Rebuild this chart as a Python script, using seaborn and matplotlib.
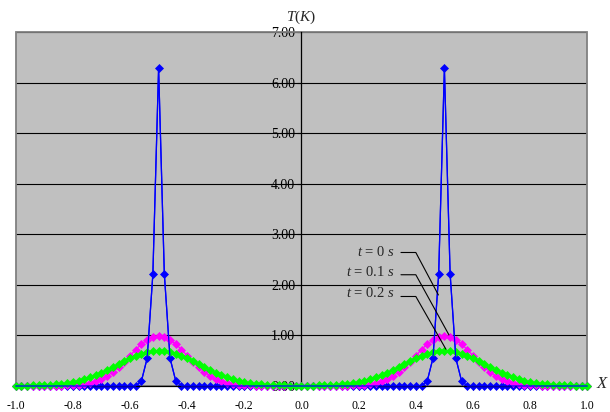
import numpy as np
import matplotlib
matplotlib.use("Agg")
import matplotlib.pyplot as plt
from matplotlib.patches import Rectangle
import seaborn as sns

# Spatial grid and temperature profiles T(x) at three instants
x = np.linspace(-1.0, 1.0, 101)

t0 = [0, 0, 0, 0, 0, 0, 0, 0, 0, 0,
      0, 0, 0, 0, 0, 0, 0, 0, 0, 0,
      0, 0, 0.10, 0.55, 2.22, 6.28, 2.22, 0.55, 0.10, 0,
      0, 0, 0, 0, 0, 0, 0, 0, 0, 0,
      0, 0, 0, 0, 0, 0, 0, 0, 0, 0,
      0, 0, 0, 0, 0, 0, 0, 0, 0, 0,
      0, 0, 0, 0, 0, 0, 0, 0, 0, 0,
      0, 0, 0.10, 0.55, 2.22, 6.28, 2.22, 0.55, 0.10, 0,
      0, 0, 0, 0, 0, 0, 0, 0, 0, 0,
      0, 0, 0, 0, 0, 0, 0, 0, 0, 0,
      0]

t01 = [0, 0, 0, 0, 0, 0, 0, 0, 0, 0.01,
       0.01, 0.02, 0.03, 0.06, 0.09, 0.13, 0.20, 0.28, 0.37, 0.48,
       0.60, 0.72, 0.83, 0.91, 0.97, 0.99, 0.97, 0.91, 0.83, 0.72,
       0.60, 0.48, 0.37, 0.28, 0.20, 0.13, 0.09, 0.06, 0.03, 0.02,
       0.01, 0.01, 0, 0, 0, 0, 0, 0, 0, 0,
       0, 0, 0, 0, 0, 0, 0, 0, 0, 0.01,
       0.01, 0.02, 0.03, 0.06, 0.09, 0.13, 0.20, 0.28, 0.37, 0.48,
       0.60, 0.72, 0.83, 0.91, 0.97, 0.99, 0.97, 0.91, 0.83, 0.72,
       0.60, 0.48, 0.37, 0.28, 0.20, 0.13, 0.09, 0.06, 0.03, 0.02,
       0.01, 0.01, 0, 0, 0, 0, 0, 0, 0, 0,
       0]

t02 = [0, 0, 0, 0.01, 0.01, 0.01, 0.02, 0.03, 0.04, 0.05,
       0.07, 0.10, 0.13, 0.17, 0.21, 0.26, 0.31, 0.37, 0.43, 0.49,
       0.55, 0.60, 0.64, 0.67, 0.69, 0.70, 0.69, 0.67, 0.64, 0.60,
       0.55, 0.49, 0.43, 0.37, 0.31, 0.26, 0.21, 0.17, 0.13, 0.10,
       0.07, 0.05, 0.04, 0.03, 0.02, 0.01, 0.01, 0.01, 0, 0,
       0, 0, 0, 0.01, 0.01, 0.01, 0.02, 0.03, 0.04, 0.05,
       0.07, 0.10, 0.13, 0.17, 0.21, 0.26, 0.31, 0.37, 0.43, 0.49,
       0.55, 0.60, 0.64, 0.67, 0.69, 0.70, 0.69, 0.67, 0.64, 0.60,
       0.55, 0.49, 0.43, 0.37, 0.31, 0.26, 0.21, 0.17, 0.13, 0.10,
       0.07, 0.05, 0.04, 0.03, 0.02, 0.01, 0.01, 0.01, 0, 0,
       0]

xticks = [-1.0, -0.8, -0.6, -0.4, -0.2, 0.0, 0.2, 0.4, 0.6, 0.8, 1.0]
yticks = [0, 1, 2, 3, 4, 5, 6, 7]
labels = ["$t$ = 0 $s$", "$t$ = 0.1 $s$", "$t$ = 0.2 $s$"]

sns.set_style("white")
plt.rcParams["font.family"] = ["Liberation Serif", "DejaVu Serif"]
plt.rcParams["mathtext.fontset"] = "custom"
plt.rcParams["mathtext.rm"] = "Liberation Serif"
plt.rcParams["mathtext.it"] = "Liberation Serif:italic"

fig = plt.figure(figsize=(6.10, 4.12), dpi=100)
ax = fig.add_axes([15.7 / 610, 26 / 412, 571.6 / 610, 354 / 412])
ax.set_facecolor("#C0C0C0")

series = [
    (t0, "#0000FF", 3.6, 2),
    (t01, "#FF00FF", 3.9, 3),
    (t02, "#00FF00", 3.9, 4),
]
for vals, col, ms, z in series:
    sns.lineplot(x=x, y=vals, ax=ax, color=col, marker="D", markersize=ms,
                 markeredgecolor=col, markeredgewidth=0.5, linewidth=0.9,
                 sort=False, estimator=None, zorder=z, clip_on=False)
# thin t=0 line kept visible over the broader profiles
sns.lineplot(x=x, y=t0, ax=ax, color="#0000FF", linewidth=0.9, sort=False,
             estimator=None, zorder=5, clip_on=False)

ax.set_xlim(-1.0, 1.0)
ax.set_ylim(0, 7)
ax.set_xticks(xticks)
ax.set_xticklabels([f"{v:.1f}" for v in xticks], fontsize=8.5)
ax.set_yticks(yticks)
ax.set_yticklabels([f"{v:.2f}" for v in yticks], fontsize=7)
ax.set_xlabel("")
ax.set_ylabel("")

ax.yaxis.grid(True, color="black", linewidth=0.8)
ax.xaxis.grid(False)
ax.set_axisbelow(True)

for s in ("top", "right"):
    ax.spines[s].set_visible(False)
ax.spines["left"].set_position(("data", 0))
ax.spines["left"].set_color("black")
ax.spines["left"].set_linewidth(0.9)
ax.spines["left"].set_zorder(1.5)
ax.spines["bottom"].set_color("black")
ax.spines["bottom"].set_linewidth(0.9)
ax.tick_params(axis="y", direction="out", length=3, width=0.8, pad=1.5,
               colors="black", left=True)
ax.tick_params(axis="x", direction="out", length=3, width=0.8, pad=7,
               colors="black", bottom=True)

ax.add_patch(Rectangle((0, 0), 1, 1, transform=ax.transAxes, fill=False,
                       edgecolor="#808080", linewidth=1.3, clip_on=False,
                       zorder=1))

# curve labels with leader lines
label_y = [2.65, 2.26, 1.83]
leaders = [((0.348, 2.64), (0.400, 2.64), (0.479, 1.80)),
           ((0.348, 2.20), (0.400, 2.20), (0.516, 1.01)),
           ((0.348, 1.77), (0.400, 1.77), (0.505, 0.73))]
for txt, ly, pts in zip(labels, label_y, leaders):
    ax.text(0.325, ly, txt, ha="right", va="center", fontsize=10.5, zorder=6)
    ax.plot([p[0] for p in pts], [p[1] for p in pts], color="black",
            linewidth=0.8, zorder=6)

ax.text(1.055, 0.03, "$X$", ha="center", va="center", fontsize=12,
        clip_on=False)
fig.text(301.5 / 610, 1 - 17 / 412, "$T(K)$", ha="center", va="center",
         fontsize=11)

fig.savefig("out.png", dpi=100)
